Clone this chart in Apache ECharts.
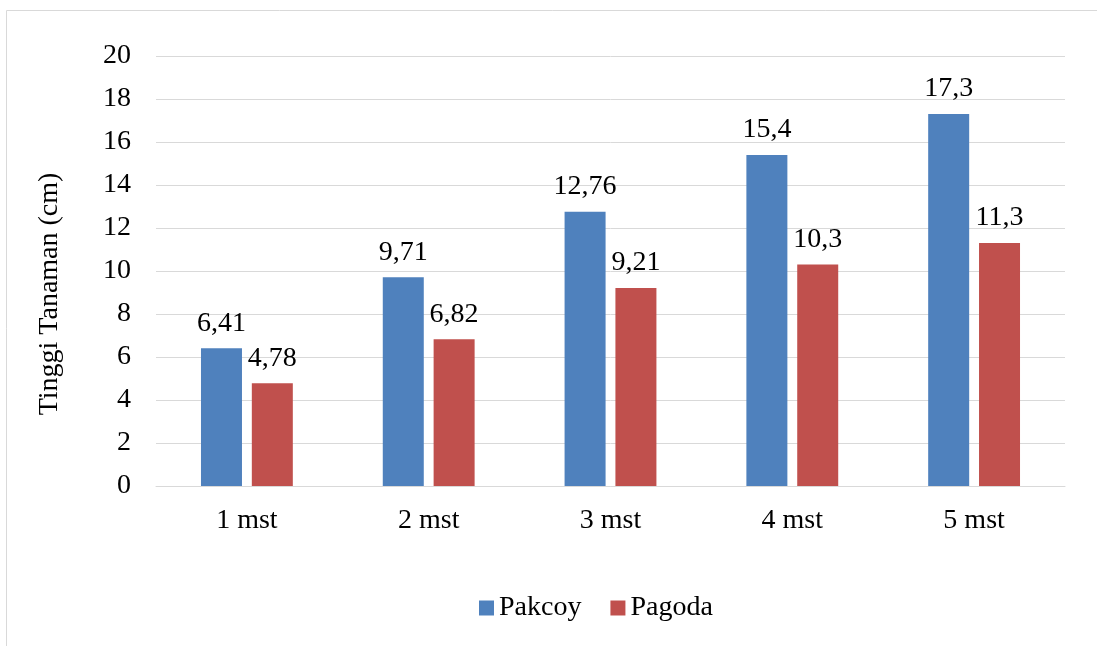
<!DOCTYPE html>
<html>
<head>
<meta charset="utf-8">
<script src="https://cdn.jsdelivr.net/npm/echarts@6/dist/echarts.min.js"></script>
<style>
  html, body { margin: 0; padding: 0; background: #ffffff; }
  #chart { width: 1097px; height: 646px; }
</style>
</head>
<body>
<div id="chart"></div>
<script>
const categories = ['1 mst', '2 mst', '3 mst', '4 mst', '5 mst'];
const pakcoy = [6.41, 9.71, 12.76, 15.4, 17.3];
const pagoda = [4.78, 6.82, 9.21, 10.3, 11.3];
const pakcoyLabels = ['6,41', '9,71', '12,76', '15,4', '17,3'];
const pagodaLabels = ['4,78', '6,82', '9,21', '10,3', '11,3'];

const font = 'Liberation Serif';

const chart = echarts.init(document.getElementById('chart'));

function barLabel(texts) {
  return {
    show: true,
    position: 'top',
    distance: 11,
    fontFamily: font,
    fontSize: 28,
    color: '#000',
    formatter: (p) => texts[p.dataIndex],
  };
}

chart.setOption({
  animation: false,
  textStyle: { fontFamily: font },
  graphic: [
    {
      type: 'rect',
      shape: { x: 6.5, y: 10.5, width: 1200, height: 700 },
      style: { fill: 'none', stroke: '#d9d9d9', lineWidth: 1 },
      silent: true,
    },
  ],
  grid: {
    left: 156,
    right: 32,
    top: 56,
    bottom: 160,
  },
  legend: {
    top: 589,
    left: 474,
    itemWidth: 15,
    itemHeight: 15,
    itemGap: 29,
    icon: 'rect',
    textStyle: { fontFamily: font, fontSize: 28, color: '#000' },
    data: ['Pakcoy', 'Pagoda'],
  },
  xAxis: {
    type: 'category',
    data: categories,
    axisLine: { lineStyle: { color: '#d9d9d9', width: 1 } },
    axisTick: { show: false },
    axisLabel: { fontFamily: font, fontSize: 28, color: '#000', margin: 21 },
  },
  yAxis: {
    type: 'value',
    min: 0,
    max: 20,
    interval: 2,
    name: 'Tinggi Tanaman (cm)',
    nameLocation: 'middle',
    nameGap: 92,
    nameRotate: 90,
    nameTextStyle: { fontFamily: font, fontSize: 28, color: '#000', padding: [0, 46, 0, 0] },
    axisLine: { show: false },
    axisTick: { show: false },
    axisLabel: { fontFamily: font, fontSize: 28, color: '#000', margin: 25 },
    splitLine: { lineStyle: { color: '#d9d9d9', width: 1 } },
  },
  series: [
    {
      name: 'Pakcoy',
      type: 'bar',
      data: pakcoy,
      barWidth: 41,
      barGap: '24%',
      itemStyle: { color: '#4F81BD' },
      label: barLabel(pakcoyLabels),
    },
    {
      name: 'Pagoda',
      type: 'bar',
      data: pagoda,
      barWidth: 41,
      itemStyle: { color: '#C0504D' },
      label: barLabel(pagodaLabels),
    },
  ],
});
</script>
</body>
</html>
